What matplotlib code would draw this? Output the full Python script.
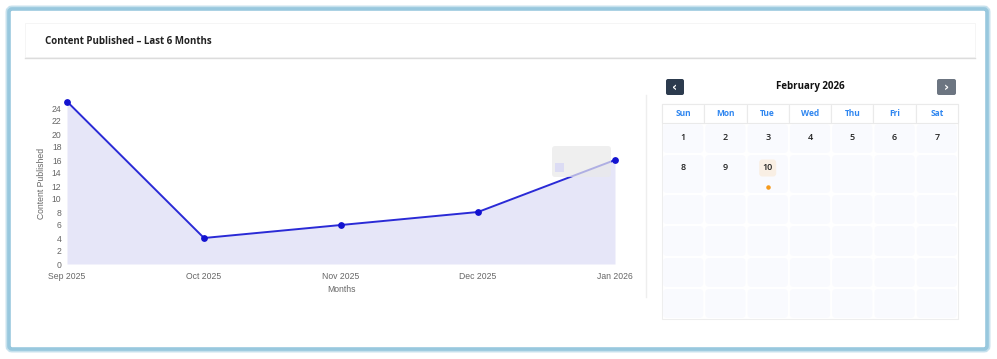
import matplotlib
matplotlib.use('Agg')
import matplotlib.pyplot as plt
from matplotlib.patches import FancyBboxPatch, Rectangle

W, H = 997, 359

# Chart data.
months = ['Sep 2025', 'Oct 2025', 'Nov 2025', 'Dec 2025', 'Jan 2026']
counts = [25, 4, 6, 8, 16]
y_ticks = list(range(0, 25, 2))

# Calendar data.
cal_title = 'February 2026'
weekdays = ['Sun', 'Mon', 'Tue', 'Wed', 'Thu', 'Fri', 'Sat']
cal_days = [[1, 2, 3, 4, 5, 6, 7], [8, 9, 10]]
today = 10
n_rows = 6

plt.rcParams['font.family'] = ['Liberation Sans', 'DejaVu Sans']
ui_font = ['Open Sans', 'DejaVu Sans']

fig = plt.figure(figsize=(W / 100, H / 100), dpi=100, facecolor='white')

# Background axes in pixel coordinates.
bg = fig.add_axes([0, 0, 1, 1])
bg.set_xlim(0, W)
bg.set_ylim(H, 0)
bg.set_axis_off()

# Outer blue frame.
bg.add_patch(FancyBboxPatch((9, 9), 978, 340, boxstyle='round,pad=0,rounding_size=3',
                            facecolor='white', edgecolor='#c6e1ed', linewidth=5))
bg.add_patch(FancyBboxPatch((9, 9), 978, 340, boxstyle='round,pad=0,rounding_size=3',
                            facecolor='white', edgecolor='#98c8de', linewidth=2.6))

# Header card.
bg.add_patch(Rectangle((25, 23), 950, 34, facecolor='white', edgecolor='#f4f4f4', linewidth=0.6))
bg.plot([25, 975], [57.5, 57.5], color='#dcdcdc', linewidth=1.0)
bg.text(45, 41, 'Content Published \u2013 Last 6 Months', fontsize=7.0, fontweight='bold',
        family=ui_font, color='#222222', va='center', ha='left')

# Divider between chart and calendar.
bg.plot([645.5, 645.5], [95, 297], color='#eeeeee', linewidth=1.0)

# Line chart.
x0, x1, yb, yt = 67, 615, 264, 101.5
ax = fig.add_axes([x0 / W, 1 - yb / H, (x1 - x0) / W, (yb - yt) / H])
xs = list(range(len(months)))
ax.fill_between(xs, counts, 0, color='#e6e6f8', linewidth=0, zorder=1)
ax.plot(xs, counts, color='#2a2ad6', linewidth=1.4, zorder=3, clip_on=False)
ax.scatter(xs, counts, s=15, color='#1212d0', zorder=4, clip_on=False)
ax.set_xlim(0, len(months) - 1)
ax.set_ylim(0, 25)
ax.set_xticks(xs)
ax.set_xticklabels(months)
ax.set_yticks(y_ticks)
for s in ax.spines.values():
    s.set_visible(False)
ax.tick_params(length=0, labelsize=6.2, labelcolor='#666666')
ax.tick_params(axis='x', pad=6)
ax.tick_params(axis='y', pad=4)
ax.set_facecolor('none')
bg.text(41, 183, 'Content Published', rotation=90, fontsize=6.2, color='#666666',
        ha='center', va='center')
bg.text(341, 290, 'Months', fontsize=6.2, color='#666666', ha='center', va='center')

# Faint legend box over the chart.
ax.add_patch(FancyBboxPatch((552, 146), 59, 31, boxstyle='round,pad=0,rounding_size=3',
                            facecolor='#e9e9e9', edgecolor='none', alpha=0.7,
                            transform=bg.transData, zorder=6, clip_on=False))
ax.add_patch(Rectangle((555, 163), 9, 9, facecolor='#dcdcf4', edgecolor='none',
                       transform=bg.transData, zorder=7, clip_on=False))

# Calendar header.
bg.add_patch(FancyBboxPatch((666, 79), 18, 16, boxstyle='round,pad=0,rounding_size=2',
                            facecolor='#2c3b4e', edgecolor='none'))
bg.text(675, 87.5, '\u2039', color='white', fontsize=9, fontweight='bold',
        family='DejaVu Sans', ha='center', va='center')
bg.add_patch(FancyBboxPatch((937, 79), 19, 16, boxstyle='round,pad=0,rounding_size=2',
                            facecolor='#6c7581', edgecolor='none'))
bg.text(946.5, 87.5, '\u203a', color='white', fontsize=9, fontweight='bold',
        family='DejaVu Sans', ha='center', va='center')
bg.text(810, 87, cal_title, fontsize=7.0, fontweight='bold', family=ui_font,
        color='#111111', ha='center', va='center')

# Calendar grid.
cx0, cx1 = 662, 958
cw = (cx1 - cx0) / 7
bg.add_patch(Rectangle((cx0 + 1, 105), cx1 - cx0, 215, facecolor='#ededed', edgecolor='none'))
bg.add_patch(Rectangle((cx0, 104), cx1 - cx0, 215, facecolor='white', edgecolor='#eeeeee',
                       linewidth=0.8))
for i, wd in enumerate(weekdays):
    bg.add_patch(Rectangle((cx0 + i * cw, 104), cw, 19, facecolor='white', edgecolor='#eaeaea',
                           linewidth=0.8))
    bg.text(cx0 + (i + 0.5) * cw, 113.5, wd, fontsize=6.0, fontweight='bold', color='#2f86f0',
            family=ui_font, ha='center', va='center')

row_edges = [123, 154, 194, 225, 257, 288, 319]
for r in range(n_rows):
    top, bot = row_edges[r], row_edges[r + 1]
    for c in range(7):
        bg.add_patch(FancyBboxPatch((cx0 + c * cw + 1, top + 1), cw - 2, bot - top - 2,
                                    boxstyle='round,pad=0,rounding_size=4',
                                    facecolor='#f9fafe', edgecolor='none'))
for r, week in enumerate(cal_days):
    ty = row_edges[r] + 14
    for c, d in enumerate(week):
        cx = cx0 + (c + 0.5) * cw
        if d == today:
            bg.add_patch(FancyBboxPatch((cx - 8.5, ty - 8.5), 17, 17,
                                        boxstyle='round,pad=0,rounding_size=3',
                                        facecolor='#f9efe4', edgecolor='none'))
            bg.scatter([cx], [ty + 19], s=5, color='#f59a1c', zorder=5)
        bg.text(cx, ty, str(d), fontsize=6.5, fontweight='semibold', color='#222222',
                family=ui_font, ha='center', va='center')

fig.savefig('out.png', dpi=100, facecolor='white')
